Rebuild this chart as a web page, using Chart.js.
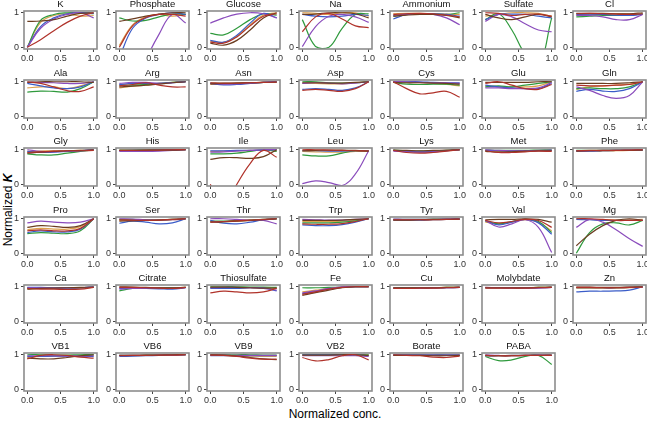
<!DOCTYPE html>
<html lang="en">
<head>
  <meta charset="UTF-8" />
  <title>Normalized K panels</title>
  <script src="https://cdn.jsdelivr.net/npm/chart.js"></script>
  <style>
    body { margin: 0; background: #fff; }
    #wrap { position: relative; width: 647px; height: 421px; overflow: hidden; font-family: "Liberation Sans", Arial, sans-serif; }
    #wrap canvas { position: absolute; }
    .ylab {
      position: absolute; left: 8px; top: 210px;
      transform: translate(-50%, -50%) rotate(-90deg);
      font-size: 12px; white-space: nowrap; color: #000;
    }
    .xlab {
      position: absolute; left: 335px; top: 414px;
      transform: translate(-50%, -50%);
      font-size: 12px; white-space: nowrap; color: #000;
    }
  </style>
</head>
<body>
  <div id="wrap">
    <div class="ylab">Normalized <b><i>K</i></b></div>
    <div class="xlab">Normalized conc.</div>
  </div>

  <script>
    // panel names, row by row
    const panels = [
      'K', 'Phosphate', 'Glucose', 'Na', 'Ammonium', 'Sulfate', 'Cl',
      'Ala', 'Arg', 'Asn', 'Asp', 'Cys', 'Glu', 'Gln',
      'Gly', 'His', 'Ile', 'Leu', 'Lys', 'Met', 'Phe',
      'Pro', 'Ser', 'Thr', 'Trp', 'Tyr', 'Val', 'Mg',
      'Ca', 'Citrate', 'Thiosulfate', 'Fe', 'Cu', 'Molybdate', 'Zn',
      'VB1', 'VB6', 'VB9', 'VB2', 'Borate', 'PABA'
    ];

    // sampled concentrations
    const xs = [0, 0.2, 0.4, 0.6, 0.8, 1.0];
    const xTicks = [0, 0.5, 1];
    const yTicks = [0, 1];

    // one row of values per panel, same order as panels
    const blue = [
      [0, 0.6, 0.85, 0.97, 1.0, 0.98], [-0.3, 0.55, 0.85, 0.95, 1.0, 0.95], [0.2, 0.15, 0.35, 0.7, 0.98, 0.85],
      [0.95, 0.9, 0.88, 0.9, 0.95, 0.92], [0.82, 0.95, 0.97, 0.97, 0.95, 0.9], [0.8, 0.95, 0.96, 0.95, 0.9, 0.85],
      [0.95, 0.96, 0.95, 0.93, 0.92, 0.95],
      [0.95, 0.88, 0.82, 0.8, 0.85, 1.0], [0.92, 0.95, 0.95, 0.95, 0.97, 1.0], [0.95, 0.91, 0.92, 0.95, 0.98, 1.0],
      [0.78, 0.8, 0.78, 0.75, 0.82, 1.0], [1.0, 1.0, 1.0, 0.98, 0.97, 0.97], [0.9, 0.85, 0.82, 0.8, 0.8, 0.95],
      [0.72, 0.78, 0.73, 0.72, 0.8, 1.0],
      [0.95, 0.92, 0.93, 0.95, 0.97, 1.0], [0.97, 0.98, 0.98, 0.99, 1.0, 1.0], [0.97, 0.97, 0.98, 0.98, 0.99, 1.0],
      [0.97, 0.97, 0.96, 0.96, 0.97, 0.97], [0.98, 0.95, 0.94, 0.95, 0.97, 1.0], [0.98, 0.97, 0.96, 0.97, 0.97, 0.98],
      [0.96, 0.96, 0.97, 0.98, 0.98, 0.99],
      [0.6, 0.65, 0.62, 0.62, 0.7, 1.0], [0.87, 0.93, 0.9, 0.85, 0.88, 1.0], [0.95, 0.87, 0.85, 0.9, 0.97, 1.0],
      [0.82, 0.8, 0.8, 0.83, 0.9, 1.0], [0.96, 0.96, 0.96, 0.97, 0.98, 0.99], [0.95, 0.82, 0.9, 0.98, 0.88, 0.55],
      [0.98, 0.97, 0.95, 0.95, 0.95, 0.95],
      [0.98, 0.98, 0.97, 0.97, 0.97, 1.0], [0.95, 0.96, 0.95, 0.94, 0.93, 0.97], [0.95, 0.95, 0.95, 0.97, 0.97, 0.88],
      [0.8, 0.86, 0.93, 0.98, 1.0, 1.0], [0.96, 0.96, 0.96, 0.97, 0.97, 0.98], [0.97, 0.97, 0.97, 0.97, 0.97, 0.98],
      [0.85, 0.87, 0.87, 0.88, 0.9, 1.0],
      [0.95, 0.95, 0.96, 0.96, 0.96, 0.95], [0.95, 0.96, 0.97, 0.98, 0.99, 1.0], [0.97, 0.97, 0.97, 0.97, 0.97, 0.97],
      [1.0, 1.0, 1.0, 1.0, 1.0, 0.97], [0.99, 0.99, 0.99, 0.99, 0.99, 0.99], [0.97, 0.97, 0.98, 0.98, 0.99, 0.99]
    ];
    const red = [
      [0, 0.22, 0.48, 0.72, 0.9, 1.0], [0, 0.62, 0.86, 0.95, 0.95, 0.9], [0.15, 0.12, 0.3, 0.62, 0.9, 0.97],
      [0.45, 0.88, 0.98, 0.82, 0.62, 0.57], [0.95, 0.97, 0.98, 0.97, 0.93, 0.88], [1.0, 0.98, 0.92, 0.95, 0.96, 0.9],
      [0.97, 0.98, 0.97, 0.96, 0.95, 0.97],
      [1.0, 0.95, 0.85, 0.74, 0.72, 0.85], [0.88, 0.92, 0.97, 0.9, 0.85, 0.85], [0.97, 0.96, 0.96, 0.97, 0.98, 0.99],
      [0.75, 0.78, 0.75, 0.72, 0.8, 1.0], [1.0, 0.8, 0.65, 0.68, 0.72, 0.55], [0.95, 1.0, 0.9, 0.8, 0.78, 0.92],
      [0.9, 0.88, 0.88, 0.9, 0.92, 1.0],
      [0.92, 0.94, 0.96, 0.97, 0.97, 0.98], [0.98, 0.98, 0.99, 0.99, 1.0, 1.0], [0.0, -0.7, 0.0, 0.6, 0.98, 0.78],
      [1.0, 1.0, 0.99, 0.98, 0.97, 0.97], [0.98, 0.92, 0.9, 0.92, 0.96, 1.0], [0.97, 0.92, 0.92, 0.94, 0.96, 0.95],
      [0.97, 0.98, 0.98, 0.98, 0.99, 1.0],
      [0.65, 0.68, 0.65, 0.65, 0.72, 1.0], [0.97, 0.96, 0.95, 0.96, 0.98, 1.0], [0.9, 0.92, 0.94, 0.96, 0.98, 1.0],
      [0.85, 0.84, 0.84, 0.86, 0.92, 1.0], [0.97, 0.97, 0.97, 0.97, 0.98, 0.99], [0.95, 0.88, 0.92, 0.98, 0.95, 0.75],
      [1.0, 1.0, 0.98, 0.95, 0.95, 0.95],
      [0.95, 0.93, 0.93, 0.92, 0.93, 0.98], [0.98, 0.98, 0.97, 0.96, 0.95, 0.98], [0.82, 0.87, 0.85, 0.82, 0.85, 0.95],
      [0.78, 0.85, 0.93, 0.98, 1.0, 1.0], [0.95, 0.95, 0.96, 0.96, 0.97, 0.98], [0.96, 0.96, 0.96, 0.96, 0.97, 0.98],
      [0.98, 0.98, 0.97, 0.97, 0.98, 0.99],
      [0.88, 0.98, 1.0, 0.98, 0.93, 0.9], [0.97, 0.98, 0.98, 0.99, 0.99, 1.0], [0.99, 0.98, 0.95, 0.9, 0.87, 0.87],
      [0.92, 0.82, 0.86, 0.97, 1.0, 0.85], [1.0, 0.98, 0.97, 0.93, 0.92, 0.96], [0.98, 0.97, 0.97, 0.98, 0.98, 0.98]
    ];
    const green = [
      [0, 0.78, 0.95, 1.0, 1.0, 0.97], [0.85, 0.76, 0.78, 0.88, 0.96, 0.95], [0.4, 0.36, 0.55, 0.8, 0.97, 0.93],
      [0.8, 0.02, 0.0, 0.55, 0.95, 0.97], [0.9, 0.95, 0.97, 0.97, 0.95, 1.0], [0.8, 0.97, 0.5, -0.2, -0.55, 0.85],
      [0.88, 0.9, 0.92, 0.92, 0.93, 0.97],
      [0.7, 0.73, 0.72, 0.7, 0.8, 1.0], [0.9, 0.9, 0.92, 0.95, 0.98, 1.0], [0.96, 0.95, 0.96, 0.97, 0.98, 1.0],
      [1.0, 1.0, 0.97, 0.96, 0.97, 1.0], [0.98, 0.93, 0.92, 0.93, 0.93, 0.9], [0.85, 0.88, 0.85, 0.9, 0.95, 1.0],
      [0.8, 0.82, 0.8, 0.8, 0.85, 1.0],
      [0.88, 0.85, 0.85, 0.9, 0.95, 1.0], [0.99, 0.99, 1.0, 1.0, 1.0, 1.0], [0.88, 0.88, 0.9, 0.95, 1.0, 0.95],
      [0.85, 0.82, 0.82, 0.9, 0.97, 0.97], [0.99, 0.97, 0.96, 0.97, 0.98, 1.0], [0.99, 0.98, 0.98, 0.98, 0.99, 1.0],
      [0.98, 0.98, 0.99, 0.99, 0.99, 1.0],
      [0.57, 0.6, 0.58, 0.57, 0.65, 1.0], [0.98, 0.98, 0.97, 0.97, 0.98, 1.0], [0.93, 0.93, 0.95, 0.96, 0.98, 1.0],
      [0.88, 0.88, 0.88, 0.9, 0.94, 1.0], [0.98, 0.98, 0.98, 0.99, 0.99, 1.0], [0.93, 0.85, 0.92, 0.98, 0.92, 0.6],
      [0.0, 0.6, 0.85, 0.88, 0.82, 0.95],
      [0.96, 0.96, 0.96, 0.96, 0.97, 0.99], [0.88, 0.95, 0.97, 0.97, 0.97, 0.98], [1.0, 1.0, 1.0, 0.99, 0.99, 0.98],
      [0.97, 0.97, 0.98, 0.99, 1.0, 1.0], [0.97, 0.97, 0.97, 0.97, 0.98, 0.98], [0.97, 0.97, 0.97, 0.97, 0.98, 0.98],
      [0.97, 0.97, 0.97, 0.97, 0.98, 1.0],
      [1.0, 1.0, 0.99, 0.99, 1.0, 1.0], [0.98, 0.98, 0.99, 0.99, 1.0, 1.0], [1.0, 1.0, 1.0, 1.0, 0.99, 0.99],
      [1.0, 1.0, 1.0, 1.0, 1.0, 1.0], [1.0, 1.0, 1.0, 1.0, 1.0, 0.99], [0.95, 0.83, 0.85, 0.95, 0.98, 0.72]
    ];
    const orange = [
      [0, 0.72, 0.92, 0.97, 0.9, 0.92], [0.05, 0.65, 0.88, 0.95, 0.9, 0.95], [0.18, 0.14, 0.32, 0.65, 0.93, 1.0],
      [1.0, 0.98, 0.95, 1.0, 1.0, 0.9], [0.97, 0.98, 0.98, 0.97, 0.96, 0.95], [0.9, 0.95, 1.0, 1.0, 0.98, 0.9],
      [0.93, 0.95, 0.96, 0.97, 0.96, 0.95],
      [0.82, 0.85, 0.85, 0.8, 0.88, 1.0], [0.82, 0.87, 0.9, 0.95, 0.98, 1.0], [0.92, 0.93, 0.95, 0.97, 0.98, 1.0],
      [0.95, 0.95, 0.94, 0.94, 0.97, 1.0], [1.0, 0.98, 0.97, 0.95, 0.92, 0.88], [0.88, 0.86, 0.85, 0.85, 0.88, 1.0],
      [0.78, 0.85, 0.88, 0.9, 0.93, 1.0],
      [0.95, 0.96, 0.97, 0.97, 0.98, 0.98], [0.97, 0.97, 0.98, 0.99, 0.99, 1.0], [0.95, 0.96, 0.97, 0.98, 0.98, 0.97],
      [0.95, 0.94, 0.93, 0.93, 0.95, 0.95], [0.97, 0.95, 0.94, 0.95, 0.97, 0.99], [0.96, 0.95, 0.95, 0.96, 0.97, 0.97],
      [0.95, 0.96, 0.97, 0.97, 0.98, 0.98],
      [0.68, 0.72, 0.7, 0.7, 0.77, 1.0], [0.95, 0.95, 0.95, 0.96, 0.97, 0.99], [0.92, 0.92, 0.93, 0.95, 0.97, 0.99],
      [0.92, 0.92, 0.92, 0.93, 0.96, 1.0], [0.95, 0.95, 0.96, 0.97, 0.98, 0.98], [0.9, 0.85, 0.9, 0.97, 0.9, 0.65],
      [1.0, 0.98, 0.97, 0.97, 0.97, 0.98],
      [0.94, 0.95, 0.95, 0.95, 0.96, 0.98], [0.97, 0.97, 0.96, 0.96, 0.96, 0.98], [0.97, 0.98, 0.98, 0.97, 0.97, 0.96],
      [0.85, 0.9, 0.95, 0.98, 1.0, 1.0], [0.96, 0.96, 0.97, 0.97, 0.98, 0.98], [0.98, 0.97, 0.97, 0.97, 0.98, 0.99],
      [0.96, 0.96, 0.96, 0.96, 0.97, 0.99],
      [0.93, 0.95, 0.96, 0.97, 0.98, 1.0], [0.97, 0.97, 0.98, 0.98, 0.99, 1.0], [0.98, 0.98, 0.97, 0.96, 0.95, 0.95],
      [0.98, 0.98, 0.99, 1.0, 1.0, 0.99], [0.98, 0.98, 0.98, 0.98, 0.98, 0.98], [0.97, 0.97, 0.98, 0.98, 0.99, 0.98]
    ];
    const purple = [
      [0, 0.55, 0.82, 0.95, 1.0, 0.85], [-2.2, -1.5, -0.38, 0.38, 0.95, 0.7], [0.7, 0.85, 0.96, 1.0, 0.97, 0.85],
      [0.02, 0.6, 0.9, 0.95, 0.88, 0.72], [0.92, 0.96, 0.97, 0.95, 0.85, 0.65], [0.75, 0.95, 0.88, 0.68, 0.5, 0.45],
      [0.92, 0.92, 0.88, 0.8, 0.8, 0.95],
      [0.98, 0.98, 0.97, 0.95, 0.95, 1.0], [0.95, 0.98, 0.98, 0.95, 0.97, 1.0], [0.95, 0.93, 0.94, 0.96, 0.98, 1.0],
      [0.95, 0.97, 0.96, 0.94, 0.96, 1.0], [1.0, 1.0, 0.98, 0.97, 0.97, 0.95], [0.82, 0.82, 0.8, 0.8, 0.82, 0.98],
      [0.85, 0.75, 0.6, 0.52, 0.6, 1.0],
      [1.0, 0.95, 0.94, 0.96, 0.97, 1.0], [0.95, 0.95, 0.95, 0.96, 0.98, 1.0], [0.93, 0.94, 0.96, 0.98, 1.0, 1.0],
      [0.02, 0.1, 0.05, -0.04, 0.3, 0.97], [0.96, 0.94, 0.93, 0.94, 0.97, 1.0], [1.0, 0.98, 0.97, 0.97, 0.98, 0.99],
      [0.97, 0.97, 0.98, 0.98, 0.99, 1.0],
      [0.88, 0.93, 0.9, 0.88, 0.9, 1.0], [1.0, 0.99, 0.97, 0.96, 0.97, 1.0], [1.0, 1.0, 0.98, 0.95, 0.95, 0.85],
      [0.98, 0.97, 0.96, 0.96, 0.98, 1.0], [0.99, 0.98, 0.98, 0.98, 0.99, 1.0], [0.95, 0.76, 0.85, 0.97, 0.75, 0.02],
      [0.75, 0.98, 0.9, 0.68, 0.42, 0.2],
      [0.97, 0.97, 0.96, 0.96, 0.97, 0.99], [0.93, 0.95, 0.96, 0.96, 0.95, 0.97], [0.97, 0.98, 0.98, 0.97, 0.95, 0.9],
      [0.82, 0.88, 0.95, 1.0, 1.0, 1.0], [0.95, 0.95, 0.95, 0.96, 0.97, 0.98], [0.98, 0.97, 0.96, 0.96, 0.96, 0.98],
      [0.97, 0.97, 0.97, 0.97, 0.98, 0.99],
      [0.97, 0.97, 0.97, 0.96, 0.96, 0.97], [0.98, 0.98, 0.98, 0.99, 0.99, 1.0], [0.99, 0.99, 0.98, 0.98, 0.98, 0.98],
      [0.97, 0.97, 0.97, 0.97, 0.97, 0.95], [0.99, 0.99, 0.99, 0.99, 0.99, 0.99], [1.0, 0.98, 0.97, 0.98, 0.99, 0.98]
    ];
    const brown = [
      [0.75, 0.76, 0.8, 0.9, 0.98, 1.0], [0.75, 0.82, 0.9, 0.96, 1.0, 1.0], [0.12, 0.06, 0.2, 0.5, 0.85, 1.0],
      [0.95, 0.96, 1.0, 1.0, 0.97, 0.85], [0.9, 0.93, 0.95, 0.95, 0.92, 0.85], [0.95, 0.85, 0.8, 0.88, 0.95, 0.88],
      [0.98, 0.98, 0.98, 0.97, 0.97, 1.0],
      [0.98, 1.0, 1.0, 1.0, 1.0, 0.98], [0.85, 0.87, 0.9, 0.93, 0.97, 1.0], [0.94, 0.95, 0.96, 0.97, 0.98, 0.99],
      [0.97, 0.97, 0.96, 0.96, 0.98, 1.0], [0.98, 0.97, 0.97, 0.96, 0.95, 0.93], [0.98, 0.98, 0.98, 0.98, 1.0, 1.0],
      [0.95, 0.95, 0.95, 0.95, 0.97, 1.0],
      [0.9, 0.93, 0.95, 0.97, 0.98, 1.0], [0.98, 0.98, 0.98, 0.99, 0.99, 1.0], [0.72, 0.77, 0.77, 0.75, 0.8, 1.0],
      [0.97, 0.98, 0.99, 0.99, 0.98, 0.96], [0.99, 0.98, 0.97, 0.98, 0.99, 1.0], [0.95, 0.93, 0.94, 0.96, 0.97, 0.97],
      [0.96, 0.97, 0.97, 0.98, 0.98, 0.99],
      [0.75, 0.8, 0.78, 0.75, 0.8, 1.0], [0.93, 0.94, 0.95, 0.96, 0.98, 1.0], [0.9, 0.91, 0.93, 0.95, 0.97, 1.0],
      [0.95, 0.95, 0.95, 0.96, 0.98, 1.0], [0.96, 0.96, 0.97, 0.98, 0.98, 0.99], [0.97, 0.98, 0.98, 1.0, 0.98, 0.9],
      [0.22, 0.55, 0.8, 0.95, 1.0, 0.95],
      [0.93, 0.95, 0.96, 0.97, 0.98, 0.99], [1.0, 0.99, 0.98, 0.97, 0.97, 0.98], [0.99, 0.99, 0.98, 0.97, 0.96, 0.96],
      [0.75, 0.83, 0.9, 0.97, 1.0, 1.0], [0.97, 0.97, 0.97, 0.97, 0.98, 0.99], [0.97, 0.97, 0.97, 0.97, 0.98, 0.99],
      [0.99, 0.99, 0.98, 0.98, 0.99, 1.0],
      [0.9, 0.88, 0.88, 0.92, 0.97, 1.0], [0.98, 0.98, 0.99, 0.99, 1.0, 1.0], [1.0, 0.99, 0.96, 0.92, 0.88, 0.86],
      [0.99, 0.99, 0.99, 1.0, 1.0, 0.98], [0.98, 0.98, 0.98, 0.97, 0.97, 0.98], [0.98, 0.97, 0.97, 0.98, 0.98, 0.99]
    ];

    // first listed is drawn on top
    const series = [
      { vals: red, color: '#b0322a' },
      { vals: brown, color: '#6b3d20' },
      { vals: purple, color: '#8a4cbc' },
      { vals: blue, color: '#3a5cc8' },
      { vals: green, color: '#2f9a3d' },
      { vals: orange, color: '#dca04c' }
    ];

    const FONT = '"Liberation Sans", Arial, sans-serif';
    const COLS = 7;
    const BOX_LEFT = 24, COL_STEP = 91.5;
    const BOX_TOP = 11.3, ROW_STEP = 68.4;
    const PAD_L = 22, PAD_T = 12, PAD_R = 8, PAD_B = 14;
    const CW = 103, CH = 64;

    // frame + panel title
    const panelFrame = {
      id: 'panelFrame',
      afterDatasetsDraw(chart) {
        const a = chart.chartArea, ctx = chart.ctx;
        ctx.save();
        ctx.strokeStyle = '#8c8c8c';
        ctx.lineWidth = 1.6;
        ctx.strokeRect(a.left, a.top, a.right - a.left, a.bottom - a.top);
        ctx.fillStyle = '#111';
        ctx.font = '9.5px ' + FONT;
        ctx.textAlign = 'center';
        ctx.textBaseline = 'middle';
        ctx.fillText(chart.options.plugins.panelFrame.title, (a.left + a.right) / 2, a.top - 6.5);
        ctx.restore();
      }
    };

    const wrap = document.getElementById('wrap');

    panels.forEach((name, p) => {
      const r = Math.floor(p / COLS), c = p % COLS;
      const cv = document.createElement('canvas');
      cv.width = CW; cv.height = CH;
      cv.style.width = CW + 'px'; cv.style.height = CH + 'px';
      cv.style.left = Math.round(BOX_LEFT + c * COL_STEP - PAD_L) + 'px';
      cv.style.top = Math.round(BOX_TOP + r * ROW_STEP - PAD_T) + 'px';
      wrap.appendChild(cv);

      new Chart(cv, {
        type: 'line',
        data: {
          datasets: series.map(s => ({
            data: xs.map((x, i) => ({ x: x, y: s.vals[p][i] })),
            borderColor: s.color,
            borderWidth: 1.2,
            pointRadius: 0,
            tension: 0.4,
            fill: false
          }))
        },
        options: {
          responsive: false,
          animation: false,
          layout: { padding: { left: 0, top: PAD_T, right: PAD_R, bottom: 0 } },
          plugins: {
            legend: { display: false },
            tooltip: { enabled: false },
            panelFrame: { title: name }
          },
          scales: {
            x: {
              type: 'linear', min: -0.05, max: 1.05,
              afterBuildTicks: s => { s.ticks = xTicks.map(v => ({ value: v })); },
              afterFit: s => { s.height = PAD_B; },
              ticks: {
                callback: v => v.toFixed(1), autoSkip: false, maxRotation: 0,
                font: { size: 9, family: FONT }, color: '#333', padding: 1
              },
              grid: { drawOnChartArea: false, tickLength: 3, color: '#444' },
              border: { display: false }
            },
            y: {
              min: -0.05, max: 1.05,
              afterBuildTicks: s => { s.ticks = yTicks.map(v => ({ value: v })); },
              afterFit: s => { s.width = PAD_L; },
              ticks: {
                callback: v => String(v), autoSkip: false,
                font: { size: 9, family: FONT }, color: '#333', padding: 2
              },
              grid: { drawOnChartArea: false, tickLength: 3, color: '#444' },
              border: { display: false }
            }
          }
        },
        plugins: [panelFrame]
      });
    });
  </script>
</body>
</html>
